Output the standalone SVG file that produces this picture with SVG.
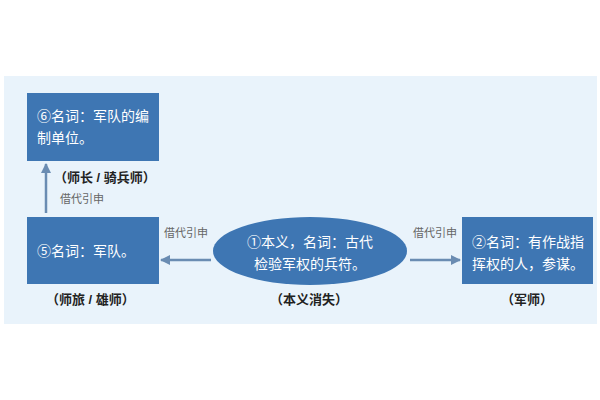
<svg xmlns="http://www.w3.org/2000/svg" width="600" height="400" viewBox="0 0 600 400">
<defs>
<style>
.box{fill:#3e76b3;}
.bt{font-family:"Liberation Sans","Noto Sans CJK SC",sans-serif;font-size:14px;fill:#ffffff;}
.lb{font-family:"Liberation Sans","Noto Sans CJK SC",sans-serif;font-size:13px;fill:#222222;font-weight:bold;}
.sm{font-family:"Liberation Sans","Noto Sans CJK SC",sans-serif;font-size:11px;fill:#666666;}
.ln{stroke:#6a8cb2;stroke-width:2.5;fill:none;}
</style>
<marker id="ah" viewBox="0 0 10 10" refX="9" refY="5" markerWidth="4" markerHeight="4" orient="auto" markerUnits="strokeWidth">
<path d="M0,0 L10,5 L0,10 z" fill="#6a8cb2"/>
</marker>
</defs>
<rect x="0" y="0" width="600" height="400" fill="#ffffff"/>
<rect x="4" y="76" width="593" height="248" fill="#e9f3fb"/>
<g id="connectors">
<line class="ln" x1="46" y1="213" x2="46" y2="164" marker-end="url(#ah)"/>
<line class="ln" x1="211" y1="260" x2="161" y2="260" marker-end="url(#ah)"/>
<line class="ln" x1="410" y1="260" x2="460" y2="260" marker-end="url(#ah)"/>
<text class="sm" x="60" y="203">借代引申</text>
<text class="sm" x="164" y="237">借代引申</text>
<text class="sm" x="413" y="237">借代引申</text>
</g>
<g id="node6">
<rect class="box" x="27" y="93" width="132" height="68"/>
<text class="bt" x="37" y="121">⑥名词：军队的编</text>
<text class="bt" x="37" y="143">制单位。</text>
<text class="lb" x="54" y="182">（师长 / 骑兵师）</text>
</g>
<g id="node5">
<rect class="box" x="27" y="217" width="132" height="67"/>
<text class="bt" x="37" y="256">⑤名词：军队。</text>
<text class="lb" x="46" y="304">（师旅 / 雄师）</text>
</g>
<g id="node1">
<ellipse class="box" cx="310" cy="251" rx="97" ry="34"/>
<text class="bt" x="310" y="247" text-anchor="middle">①本义，名词：古代</text>
<text class="bt" x="310" y="269" text-anchor="middle">检验军权的兵符。</text>
<text class="lb" x="309" y="304" text-anchor="middle">（本义消失）</text>
</g>
<g id="node2">
<rect class="box" x="462" y="217" width="131" height="67"/>
<text class="bt" x="472" y="247">②名词：有作战指</text>
<text class="bt" x="472" y="269">挥权的人，参谋。</text>
<text class="lb" x="527" y="304" text-anchor="middle">（军师）</text>
</g>
</svg>
